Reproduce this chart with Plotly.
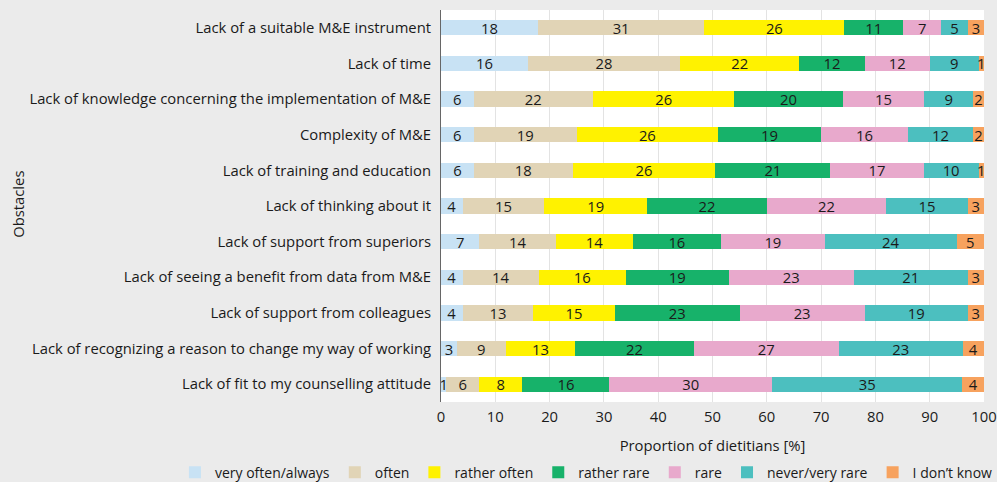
import plotly.graph_objects as go

categories = [
    "Lack of a suitable M&E instrument",
    "Lack of time",
    "Lack of knowledge concerning the implementation of M&E",
    "Complexity of M&E",
    "Lack of training and education",
    "Lack of thinking about it",
    "Lack of support from superiors",
    "Lack of seeing a benefit from data from M&E",
    "Lack of support from colleagues",
    "Lack of recognizing a reason to change my way of working",
    "Lack of fit to my counselling attitude",
]

series_names = ["very often/always", "often", "rather often", "rather rare",
                "rare", "never/very rare", "I don\u2019t know"]

very_often = [18, 16, 6, 6, 6, 4, 7, 4, 4, 3, 1]
often = [31, 28, 22, 19, 18, 15, 14, 14, 13, 9, 6]
rather_often = [26, 22, 26, 26, 26, 19, 14, 16, 15, 13, 8]
rather_rare = [11, 12, 20, 19, 21, 22, 16, 19, 23, 22, 16]
rare = [7, 12, 15, 16, 17, 22, 19, 23, 23, 27, 30]
never = [5, 9, 9, 12, 10, 15, 24, 21, 19, 23, 35]
dont_know = [3, 1, 2, 2, 1, 3, 5, 3, 3, 4, 4]

series_values = [very_often, often, rather_often, rather_rare, rare, never, dont_know]
colors = ["#c8e2f4", "#e1d4b6", "#fff200", "#17b26a", "#e8a9cc", "#4cbfbf", "#f7a25e"]

totals = [sum(v[i] for v in series_values) for i in range(len(categories))]

FONT = "Open Sans, sans-serif"
TXT = "#1a1a1a"
FS = 14.8

fig = go.Figure()
for name, vals, col in zip(series_names, series_values, colors):
    fig.add_trace(go.Bar(
        y=categories,
        x=[v / t * 100 for v, t in zip(vals, totals)],
        orientation="h",
        name=name,
        marker=dict(color=col, line=dict(width=0)),
        text=[str(v) for v in vals],
        textposition="inside",
        insidetextanchor="middle",
        textangle=0,
        textfont=dict(color=TXT, size=FS, family=FONT),
        hoverinfo="skip",
    ))

fig.add_annotation(text="Obstacles", textangle=-90, xref="paper", yref="paper",
                   x=-0.779, y=0.503, xanchor="center", yanchor="middle", showarrow=False,
                   font=dict(size=FS, family=FONT, color=TXT))

fig.update_layout(
    barmode="stack",
    bargap=0.57,
    width=997, height=482,
    margin=dict(l=441, r=13, t=10, b=80, autoexpand=False),
    paper_bgcolor="#ebebeb",
    plot_bgcolor="#ffffff",
    font=dict(family=FONT, size=FS, color=TXT),
    uniformtext=dict(minsize=FS, mode="show"),
    showlegend=True,
    legend=dict(orientation="h", x=-0.49, xanchor="left", y=-0.18, yanchor="middle",
                font=dict(size=14, family=FONT, color=TXT), traceorder="normal",
                itemwidth=30, bgcolor="rgba(0,0,0,0)"),
)
fig.update_xaxes(range=[0, 100], tickvals=list(range(0, 101, 10)),
                 showgrid=True, gridcolor="#e3e3e3", gridwidth=1,
                 zeroline=False, ticks="", automargin=False, ticklabelstandoff=4,
                 title=dict(text="Proportion of dietitians [%]",
                            font=dict(size=FS, family=FONT, color=TXT)),
                 tickfont=dict(size=FS, family=FONT, color=TXT))
fig.update_yaxes(autorange="reversed", showline=True, linecolor="#666666", linewidth=1,
                 showgrid=False, ticks="", automargin=False, ticklabelstandoff=6,
                 tickfont=dict(size=FS, family=FONT, color=TXT))

fig.write_html("out.html", config={"displayModeBar": False})

with open("out.html", "r", encoding="utf-8") as f:
    html = f.read()
html = html.replace("<head>", "<head><style>html,body{margin:0;padding:0;overflow:hidden;}</style>", 1)
with open("out.html", "w", encoding="utf-8") as f:
    f.write(html)
